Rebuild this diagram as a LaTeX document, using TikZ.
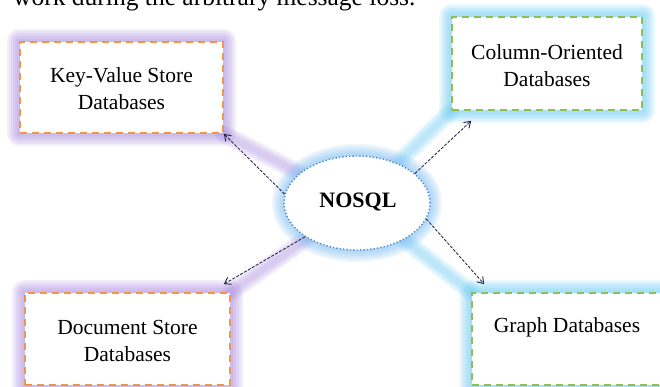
\documentclass[tikz,border=0pt]{standalone}
\usepackage{fontspec}
\setmainfont{Liberation Serif}
\usetikzlibrary{shapes.geometric,arrows.meta,calc}
\pgfdeclarelayer{bg}
\pgfsetlayers{bg,main}
\definecolor{orangeD}{RGB}{240,150,70}
\definecolor{greenD}{RGB}{145,190,80}
\definecolor{purpleG}{RGB}{165,135,220}
\definecolor{cyanG}{RGB}{100,200,240}
\definecolor{blueE}{RGB}{80,140,210}
\definecolor{blueG}{RGB}{120,185,240}
\definecolor{arrowC}{RGB}{35,35,65}
\tikzset{
  boxnode/.style={draw, fill=white, dash pattern=on 7pt off 5pt, line width=1.6pt, inner sep=0pt},
  kvbox/.style={boxnode, draw=orangeD},
  cobox/.style={boxnode, draw=greenD},
  txt/.style={font=\fontsize{21.5}{27}\selectfont, align=center},
  conn/.style={draw=arrowC, line width=0.85pt, dash pattern=on 3pt off 1.5pt, -{Straight Barb[length=6pt,width=8pt,line width=0.9pt]}},
  glowA/.style={line width=#1, opacity=0.13, line cap=round, line join=round},
}
\begin{document}
\begin{tikzpicture}[x=1pt,y=-1pt]
\useasboundingbox (0,0) rectangle (660,387);
\begin{scope}
\clip (0,0) rectangle (660,387);
\node[anchor=base west, font=\fontsize{25.5}{30}\selectfont, inner sep=0pt] (top) at (13,6) {work during the arbitrary message loss.};

\node[ellipse, fill=white, draw=blueE, line width=1.4pt, dotted, minimum width=146pt, minimum height=94pt, inner sep=0pt] (nosql) at (357,203) {};
\node[font=\fontsize{22}{26}\selectfont\bfseries] at (358,202) {NOSQL};

\node[kvbox, minimum width=203pt, minimum height=91pt] (kv) at (121.5,87.5) {};
\node[txt] at (121.5,88.5) {Key-Value Store\\Databases};

\node[cobox, minimum width=190pt, minimum height=93pt] (co) at (547,63.5) {};
\node[txt] at (547,66) {Column-Oriented\\Databases};

\node[kvbox, minimum width=205pt, minimum height=92pt] (ds) at (127.5,339) {};
\node[txt] at (127.5,341) {Document Store\\Databases};

\node[cobox, minimum width=190pt, minimum height=92pt] (gr) at (567,339) {};
\node[txt] at (567,327) {Graph Databases};

\coordinate (coEnd) at ($(co.south west)+(20,10)$);
\coordinate (dsEnd) at ($(ds.north east)+(-7,-8)$);
\coordinate (grEnd) at ($(gr.north west)+(13,-8)$);

\begin{pgfonlayer}{bg}
  \foreach \w in {18,14,10,6}{
    \draw[purpleG, glowA=\w pt] (nosql.center) -- (kv.south east);
    \draw[purpleG, glowA=\w pt] (nosql.center) -- (ds.north east);
    \draw[cyanG, glowA=\w pt] (nosql.center) -- (co.south west);
    \draw[cyanG, glowA=\w pt] (nosql.center) -- (gr.north west);
  }
  \foreach \w in {24,20,16,12,8,4}{
    \draw[purpleG, glowA=\w pt] (kv.south west) rectangle (kv.north east);
    \draw[purpleG, glowA=\w pt] (ds.south west) rectangle (ds.north east);
    \draw[cyanG, glowA=\w pt] (co.south west) rectangle (co.north east);
    \draw[cyanG, glowA=\w pt] (gr.south west) rectangle (gr.north east);
    \draw[blueG, glowA=\w pt] (nosql.center) ellipse [x radius=73pt, y radius=47pt];
  }
\end{pgfonlayer}

\draw[conn] (nosql.173) -- (kv.south east);
\draw[conn] (nosql.27) -- (coEnd);
\draw[conn] (nosql.213) -- (dsEnd);
\draw[conn] (nosql.347) -- (grEnd);
\end{scope}
\end{tikzpicture}
\end{document}
